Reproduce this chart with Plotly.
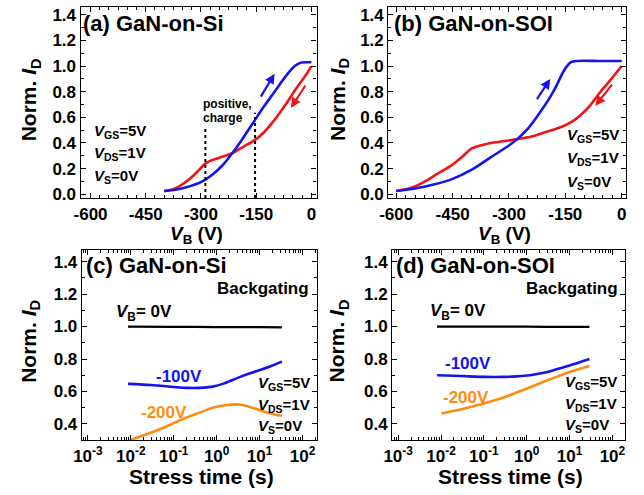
import plotly.graph_objects as go

W, H = 644, 495
FONT = "Arial, Liberation Sans, sans-serif"

# ---------------- data ----------------
# (a) GaN-on-Si sweep
a_blue_v = [-400, -370, -340, -300, -270, -240, -215, -190, -160, -130, -100, -70, -45, -30, -15, 0]
a_blue_i = [0.025, 0.035, 0.055, 0.095, 0.15, 0.23, 0.32, 0.42, 0.55, 0.68, 0.80, 0.92, 1.0, 1.025, 1.03, 1.03]
a_red_v = [-400, -380, -360, -330, -305, -290, -275, -250, -215, -185, -155, -130, -100, -70, -40, -15, 0]
a_red_i = [0.025, 0.035, 0.06, 0.12, 0.19, 0.235, 0.26, 0.285, 0.32, 0.37, 0.42, 0.48, 0.58, 0.70, 0.83, 0.93, 1.0]
a_dot_v = [-288, -153]
a_dot_top = [0.53, 0.635]

# (b) GaN-on-SOI sweep
b_blue_v = [-600, -550, -500, -450, -400, -350, -300, -278, -250, -217, -190, -173, -160, -148, -135, -120, -60, 0]
b_blue_i = [0.025, 0.045, 0.075, 0.12, 0.19, 0.285, 0.38, 0.43, 0.51, 0.64, 0.76, 0.85, 0.93, 0.99, 1.03, 1.04, 1.04, 1.04]
b_red_v = [-600, -560, -523, -490, -453, -425, -400, -370, -348, -310, -278, -240, -208, -180, -156, -130, -112, -85, -59, -30, 0]
b_red_i = [0.025, 0.05, 0.10, 0.16, 0.225, 0.29, 0.355, 0.385, 0.40, 0.415, 0.43, 0.45, 0.48, 0.505, 0.53, 0.57, 0.61, 0.69, 0.79, 0.89, 1.0]

# (c) GaN-on-Si backgating
c_t_black = [0.0086, 0.1, 1.0, 10, 33]
c_i_black = [1.0, 0.998, 0.997, 0.996, 0.995]
c_t_blue = [0.0086, 0.03, 0.1, 0.2, 0.4, 0.8, 1.5, 3.3, 6, 11.5, 20, 33]
c_i_blue = [0.647, 0.64, 0.628, 0.622, 0.622, 0.63, 0.65, 0.687, 0.712, 0.737, 0.76, 0.784]
c_t_orange = [0.0095, 0.02, 0.04, 0.1, 0.2, 0.4, 0.8, 1.6, 3.3, 6, 10, 18, 33]
c_i_orange = [0.30, 0.33, 0.36, 0.405, 0.44, 0.47, 0.50, 0.515, 0.52, 0.505, 0.485, 0.465, 0.45]

# (d) GaN-on-SOI backgating
d_t_black = [0.0081, 0.1, 1.0, 10, 29]
d_i_black = [1.0, 1.0, 0.999, 0.998, 0.998]
d_t_blue = [0.0081, 0.03, 0.1, 0.3, 0.6, 1.2, 2.5, 5, 10, 29]
d_i_blue = [0.70, 0.695, 0.69, 0.69, 0.693, 0.70, 0.715, 0.737, 0.76, 0.80]
d_t_orange = [0.0102, 0.03, 0.06, 0.15, 0.3, 0.6, 1.2, 2.5, 5, 10, 29]
d_i_orange = [0.465, 0.49, 0.51, 0.54, 0.565, 0.595, 0.626, 0.66, 0.69, 0.72, 0.757]

vb_ticks = [-600, -450, -300, -150, 0]
id_ticks_top = [0.0, 0.2, 0.4, 0.6, 0.8, 1.0, 1.2, 1.4]
id_ticks_bot = [0.4, 0.6, 0.8, 1.0, 1.2, 1.4]
t_ticks = [1e-3, 1e-2, 1e-1, 1e0, 1e1, 1e2]
t_labels = ["10<sup>-3</sup>", "10<sup>-2</sup>", "10<sup>-1</sup>", "10<sup>0</sup>", "10<sup>1</sup>", "10<sup>2</sup>"]

RED = "#f01414"
BLUE = "#1414f0"
ORANGE = "#ff8c10"

def px(x):
    return x / W

def py(y):
    return 1 - y / H

fig = go.Figure()

def line(x, y, color, xa, ya, width=2.6):
    fig.add_trace(go.Scatter(x=x, y=y, mode="lines", line=dict(color=color, width=width, shape="spline", smoothing=0.8),
                             xaxis=xa, yaxis=ya, showlegend=False, hoverinfo="skip"))

line(a_red_v, a_red_i, RED, "x", "y")
line(a_blue_v, a_blue_i, BLUE, "x", "y")
line(b_red_v, b_red_i, RED, "x2", "y2")
line(b_blue_v, b_blue_i, BLUE, "x2", "y2")
line(c_t_black, c_i_black, "black", "x3", "y3", 2.2)
line(c_t_blue, c_i_blue, BLUE, "x3", "y3")
line(c_t_orange, c_i_orange, ORANGE, "x3", "y3")
line(d_t_black, d_i_black, "black", "x4", "y4", 2.2)
line(d_t_blue, d_i_blue, BLUE, "x4", "y4")
line(d_t_orange, d_i_orange, ORANGE, "x4", "y4")

tickfont = dict(family=FONT, size=17, color="black")
common = dict(showline=True, linecolor="black", linewidth=1.3, mirror="allticks", ticks="inside",
              ticklen=5, tickwidth=1.2, tickcolor="black", showgrid=False, zeroline=False,
              tickfont=tickfont)

def b(s):
    return "<b>" + s + "</b>"

def lin_x(dom, rng):
    return dict(domain=dom, range=rng, tickvals=vb_ticks, ticktext=[b(str(v)) for v in vb_ticks],
                minor=dict(ticks="inside", ticklen=3, tickcolor="black", dtick=25, tick0=0, showgrid=False), **common)

def lin_y(dom, rng, tv):
    return dict(domain=dom, range=rng, tickvals=tv, ticktext=[b("%.1f" % v) for v in tv],
                minor=dict(ticks="inside", ticklen=3, tickcolor="black", dtick=0.1, tick0=0, showgrid=False), **common)

def log_x(dom, rng):
    return dict(domain=dom, type="log", range=rng, tickvals=t_ticks, ticktext=[b(s) for s in t_labels],
                minor=dict(ticks="inside", ticklen=3, tickcolor="black", showgrid=False, dtick="D1"), **common)

top_y = [py(199.9), py(6.2)]
bot_y = [py(445.5), py(252.8)]

fig.update_layout(
    width=W, height=H, margin=dict(l=0, r=0, t=0, b=0),
    paper_bgcolor="white", plot_bgcolor="white", showlegend=False,
    font=dict(family=FONT, color="black"),
    xaxis=lin_x([px(72.6), px(311.9)], [-627, 14]),
    yaxis=lin_y(top_y, [-0.03, 1.46], id_ticks_top),
    xaxis2=lin_x([px(384.7), px(625.9)], [-621, 12]),
    yaxis2=lin_y(top_y, [-0.03, 1.46], id_ticks_top),
    xaxis3=log_x([px(73.9), px(312.5)], [-3.14, 2.34]),
    yaxis3=lin_y(bot_y, [0.3, 1.47], id_ticks_bot),
    xaxis4=log_x([px(388.6), px(625.0)], [-3.14, 2.30]),
    yaxis4=lin_y(bot_y, [0.3, 1.47], id_ticks_bot),
)
for i in ["", "2", "3", "4"]:
    fig.layout["xaxis" + i].anchor = "y" + i
    fig.layout["yaxis" + i].anchor = "x" + i

# dotted vertical markers in (a)
for v, top in zip(a_dot_v, a_dot_top):
    fig.add_shape(type="line", xref="x", yref="y", x0=v, x1=v, y0=-0.03, y1=top,
                  line=dict(color="black", width=2, dash="dot"))

def txt(x, y, s, size=14, color="black", xanchor="left", angle=0):
    fig.add_annotation(x=px(x), y=py(y), xref="paper", yref="paper", text=b(s), showarrow=False,
                       xanchor=xanchor, yanchor="middle", textangle=angle, borderpad=0,
                       font=dict(family=FONT, size=size, color=color))

def arrow(xr, yr, x0, y0, x1, y1, color):
    fig.add_annotation(x=x1, y=y1, ax=x0, ay=y0, xref=xr, yref=yr, axref=xr, ayref=yr,
                       text="", showarrow=True, arrowhead=2, arrowsize=0.9, arrowwidth=2.2, arrowcolor=color)

# panel labels
txt(74, 23, "(a) GaN-on-Si", 22)
txt(389, 23, "(b) GaN-on-SOI", 22)
txt(77, 268, "(c) GaN-on-Si", 22)
txt(391, 268, "(d) GaN-on-SOI", 22)

# bias conditions
def bias(x, ys):
    txt(x, ys[0], "<i>V</i><sub>GS</sub>=5V", 15)
    txt(x, ys[1], "<i>V</i><sub>DS</sub>=1V", 15)
    txt(x, ys[2], "<i>V</i><sub>S</sub>=0V", 15)

bias(85, [132, 155, 178])
bias(565, [136, 160, 184])
bias(252, [388, 410, 432])
bias(563, [387, 409, 431])

txt(196, 104, "positive,", 12)
txt(196, 119, "charge", 12)

arrow("x", "y", -140, 0.75, -100, 0.94, BLUE)
arrow("x", "y", -13.6, 0.86, -55.5, 0.675, RED)
arrow("x2", "y2", -228, 0.73, -190, 0.90, BLUE)
arrow("x2", "y2", -22.6, 0.867, -70, 0.69, RED)

# backgating labels
txt(305, 292, "Backgating", 17, xanchor="right")
txt(619, 292, "Backgating", 17, xanchor="right")
txt(107, 316, "<i>V</i><sub>B</sub>= 0V", 17)
txt(426, 315, "<i>V</i><sub>B</sub>= 0V", 17)
txt(172, 381, "-100V", 17, BLUE, "center")
txt(157, 417, "-200V", 17, ORANGE, "center")
txt(466, 368, "-100V", 17, BLUE, "center")
txt(463, 402, "-200V", 17, ORANGE, "center")

# axis titles
txt(190, 237, "<i>V</i><sub>B</sub> (V)", 19, xanchor="center")
txt(503, 237, "<i>V</i><sub>B</sub> (V)", 19, xanchor="center")
txt(195, 482, "Stress time (s)", 21, xanchor="center")
txt(509, 482, "Stress time (s)", 21, xanchor="center")
for x, y in [(21, 100), (334, 100), (21, 345), (334, 345)]:
    txt(x, y, "Norm. <i>I</i><sub>D</sub>", 21, xanchor="center", angle=-90)

fig.write_html("out.html")
